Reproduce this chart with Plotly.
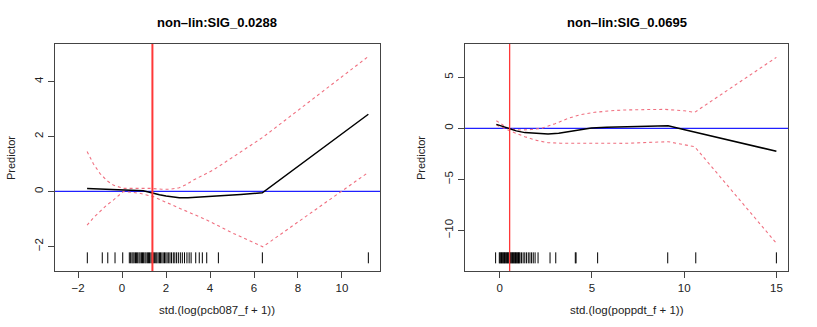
import plotly.graph_objects as go

# ---------------- data ----------------
titles = ["non\u2013lin:SIG_0.0288", "non\u2013lin:SIG_0.0695"]
xlabels = ["std.(log(pcb087_f + 1))", "std.(log(poppdt_f + 1))"]

# left panel
l_fit_x = [-1.59, -1.2, -0.8, -0.4, 0.05, 0.5, 0.96, 1.2, 1.42, 1.7, 2.0, 2.3, 2.6,
           3.0, 3.5, 4.3, 5.4, 6.38, 11.2]
l_fit_y = [0.11, 0.10, 0.09, 0.07, 0.05, 0.04, 0.02, -0.02, -0.07, -0.12, -0.17, -0.21,
           -0.23, -0.23, -0.21, -0.17, -0.11, -0.05, 2.81]
l_up_x = [-1.59, -1.3, -1.01, -0.7, -0.40, -0.1, 0.05, 0.5, 1.27, 1.8, 2.2, 2.6, 2.9,
          3.24, 4.15, 5.06, 6.40, 11.19]
l_up_y = [1.45, 1.0, 0.66, 0.40, 0.23, 0.14, 0.11, 0.11, 0.11, 0.08, 0.08, 0.13, 0.24,
          0.41, 0.78, 1.26, 1.97, 4.91]
l_lo_x = [-1.59, -1.3, -1.01, -0.7, -0.40, -0.15, 0.05, 0.4, 0.81, 1.42, 2.0, 2.63,
          3.85, 5.06, 6.40, 11.14]
l_lo_y = [-1.23, -0.96, -0.74, -0.50, -0.32, -0.13, -0.01, -0.03, -0.07, -0.19, -0.40,
          -0.62, -1.04, -1.53, -2.02, 0.66]
l_vline = 1.38
l_rug = [-1.58, -0.90, -0.65, -0.32, 0.03,
         0.33, 0.39, 0.45, 0.50, 0.55, 0.61, 0.66, 0.71, 0.77, 0.82, 0.88,
         0.93, 0.98, 1.04, 1.09, 1.15, 1.20, 1.25, 1.31, 1.36, 1.42, 1.47,
         1.53, 1.58, 1.64, 1.70, 1.75, 1.81, 1.87, 1.93, 1.99, 2.05, 2.12,
         2.18, 2.25, 2.33, 2.40, 2.48, 2.56, 2.65, 2.74, 2.84, 2.95, 3.05, 3.14,
         3.35, 3.51, 3.65, 3.85, 4.38, 6.38, 11.2]

# right panel
r_fit_x = [-0.18, 0.2, 0.54, 0.9, 1.36, 2.0, 2.62, 3.2, 3.71, 4.3, 4.97, 5.8, 6.78,
           8.0, 9.13, 10.03, 15.0]
r_fit_y = [0.39, 0.15, -0.07, -0.25, -0.42, -0.52, -0.56, -0.48, -0.33, -0.14, 0.03,
           0.10, 0.16, 0.21, 0.26, -0.13, -2.25]
r_up_x = [-0.18, 0.15, 0.45, 0.8, 1.17, 1.7, 2.26, 3.0, 3.71, 4.4, 5.15, 6.0, 6.78,
          8.0, 8.95, 10.0, 10.57, 15.0]
r_up_y = [0.75, 0.32, 0.0, -0.12, -0.16, -0.12, 0.0, 0.45, 0.98, 1.35, 1.57, 1.72, 1.80,
          1.84, 1.86, 1.72, 1.57, 6.96]
r_lo_x = [-0.18, 0.15, 0.45, 0.9, 1.36, 2.0, 2.62, 3.3, 4.07, 6.78, 9.13, 10.57, 15.0]
r_lo_y = [0.33, 0.05, -0.16, -0.50, -0.82, -1.18, -1.41, -1.46, -1.47, -1.47, -1.31,
          -1.80, -11.27]
r_vline = 0.54
r_rug = [-0.22, -0.02, 0.02, 0.06, 0.10, 0.14, 0.18, 0.22, 0.26, 0.30, 0.34,
         0.38, 0.42, 0.46, 0.50, 0.54, 0.58, 0.62, 0.66, 0.70, 0.74, 0.78,
         0.82, 0.86, 0.90, 0.94, 0.98, 1.02, 1.06, 1.10, 1.18, 1.27, 1.36,
         1.45, 1.55, 1.64, 1.73, 1.82, 1.92, 2.08, 2.73, 3.04, 4.10, 4.14,
         5.31, 9.11, 10.63, 15.0]

# ---------------- styling ----------------
W, H = 817, 327
FONT = "Liberation Sans, Arial, sans-serif"
CI_COLOR = "#F07080"
TXT = "#222222"

fig = go.Figure()

panels = [
    dict(xa="x", ya="y", fx=l_fit_x, fy=l_fit_y, ux=l_up_x, uy=l_up_y,
         lx=l_lo_x, ly=l_lo_y, rug=l_rug, vline=l_vline, vw=2,
         rug_y=(-2.22, -2.62), xr=[-3.05, 11.73], yr=[-2.9, 5.37],
         xt=[-2, 0, 2, 4, 6, 8, 10], yt=[-2, 0, 2, 4],
         dom=[55 / W, 380 / W]),
    dict(xa="x2", ya="y2", fx=r_fit_x, fy=r_fit_y, ux=r_up_x, uy=r_up_y,
         lx=r_lo_x, ly=r_lo_y, rug=r_rug, vline=r_vline, vw=1.3,
         rug_y=(-12.16, -13.24), xr=[-1.88, 15.63], yr=[-13.99, 8.27],
         xt=[0, 5, 10, 15], yt=[-10, -5, 0, 5],
         dom=[465 / W, 788 / W]),
]

ydom = [1 - 271 / H, 1 - 44 / H]

for i, p in enumerate(panels):
    # rug
    rx, ry = [], []
    for v in p["rug"]:
        rx += [v, v, None]
        ry += [p["rug_y"][0], p["rug_y"][1], None]
    fig.add_trace(go.Scatter(x=rx, y=ry, mode="lines", xaxis=p["xa"], yaxis=p["ya"],
                             line=dict(color="black", width=1), showlegend=False,
                             hoverinfo="skip"))
    # zero line
    fig.add_trace(go.Scatter(x=[p["xr"][0], p["xr"][1]], y=[0, 0], mode="lines",
                             xaxis=p["xa"], yaxis=p["ya"],
                             line=dict(color="#2020FF", width=1.3), showlegend=False))
    # CI
    for cx, cy in [(p["ux"], p["uy"]), (p["lx"], p["ly"])]:
        fig.add_trace(go.Scatter(x=cx, y=cy, mode="lines", xaxis=p["xa"], yaxis=p["ya"],
                                 line=dict(color=CI_COLOR, width=1.1, dash="3px,3px"),
                                 showlegend=False))
    # fit
    fig.add_trace(go.Scatter(x=p["fx"], y=p["fy"], mode="lines", xaxis=p["xa"], yaxis=p["ya"],
                             line=dict(color="black", width=1.5),
                             showlegend=False))
    # vertical red line
    fig.add_shape(type="line", xref=p["xa"], yref=p["ya"] + " domain",
                  x0=p["vline"], x1=p["vline"], y0=0, y1=1,
                  line=dict(color="#FF3838", width=p["vw"]))

    axsuffix = "" if i == 0 else "2"
    fig.update_layout(**{
        "xaxis" + axsuffix: dict(
            domain=p["dom"], range=p["xr"], tickvals=p["xt"], anchor="y" + axsuffix,
            showgrid=False, zeroline=False, showline=True, mirror=True, automargin=False,
            linecolor="#444444", linewidth=1.3, ticks="outside", ticklen=6,
            tickcolor="#444444", tickfont=dict(family=FONT, size=11.5, color=TXT),
        ),
        "yaxis" + axsuffix: dict(
            domain=ydom, range=p["yr"], tickvals=p["yt"], anchor="x" + axsuffix,
            showgrid=False, zeroline=False, showline=True, mirror=True, automargin=False,
            linecolor="#444444", linewidth=1.3, ticks="outside", ticklen=6,
            tickcolor="#444444", tickangle=-90,
            tickfont=dict(family=FONT, size=11.5, color=TXT),
        ),
    })

    cx = (p["dom"][0] + p["dom"][1]) / 2
    fig.add_annotation(text="<b>%s</b>" % titles[i], x=cx, y=1 - 23 / H, xref="paper",
                       yref="paper", showarrow=False, xanchor="center", yanchor="middle",
                       font=dict(family=FONT, size=13, color="black"))
    fig.add_annotation(text=xlabels[i], x=cx, y=1 - 310 / H, xref="paper", yref="paper",
                       showarrow=False, xanchor="center", yanchor="middle",
                       font=dict(family=FONT, size=11.5, color=TXT))
    fig.add_annotation(text="Predictor", x=(p["dom"][0] * W - 44) / W, y=1 - 158 / H,
                       xref="paper", yref="paper", showarrow=False, textangle=-90,
                       xanchor="center", yanchor="middle",
                       font=dict(family=FONT, size=11, color=TXT))

fig.update_layout(width=W, height=H, margin=dict(l=0, r=0, t=0, b=0, autoexpand=False),
                  plot_bgcolor="white", paper_bgcolor="white", showlegend=False)

fig.write_html("out.html", config={"displayModeBar": False},
               post_script="document.body.style.margin='0';document.body.style.overflow='hidden';")
